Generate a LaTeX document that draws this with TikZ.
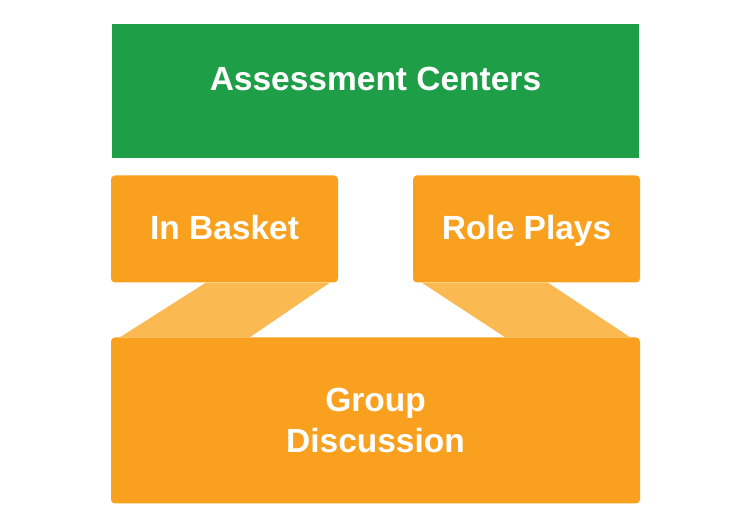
\documentclass[tikz,border=0pt]{standalone}
\usepackage{fontspec}
\setmainfont{Liberation Sans}
\usetikzlibrary{calc}
\definecolor{acgreen}{HTML}{1F9E48}
\definecolor{boxorange}{HTML}{F9A11F}
\definecolor{bandorange}{HTML}{FBB951}
\tikzset{
  box/.style={fill=boxorange, draw=none, rounded corners=4pt, inner sep=0pt,
    text=white, font=\fontsize{33.5}{41}\selectfont\bfseries, align=center},
  band/.style={fill=bandorange, draw=none}
}
\begin{document}
\begin{tikzpicture}[x=1pt,y=1pt]
\useasboundingbox[fill=white] (0,0) rectangle (755,530);
\node[fill=acgreen, inner sep=0pt, minimum width=527pt, minimum height=134pt,
  text=white, font=\fontsize{33.5}{40}\selectfont\bfseries,
  text height=24pt, text depth=25pt] (ac) at (375.5,439) {Assessment Centers};
\node[box, minimum width=227pt, minimum height=107pt, text height=24pt, text depth=2pt] (ib) at (224.5,301) {In Basket};
\node[box, minimum width=227pt, minimum height=107pt, text height=24pt, text depth=2pt] (rp) at (526.5,301) {Role Plays};
\node[box, minimum width=529pt, minimum height=166pt] (gd) at (375.5,109.5) {Group\\Discussion};
\fill[band] ($(ib.south west)+(95,0)$) -- ($(ib.south west)+(219,0)$)
  -- ($(gd.north west)+(139,0)$) -- ($(gd.north west)+(9,0)$) -- cycle;
\fill[band] ($(rp.south west)+(9,0)$) -- ($(rp.south west)+(135,0)$)
  -- ($(gd.north east)+(-10,0)$) -- ($(gd.north east)+(-135,0)$) -- cycle;
\end{tikzpicture}
\end{document}
